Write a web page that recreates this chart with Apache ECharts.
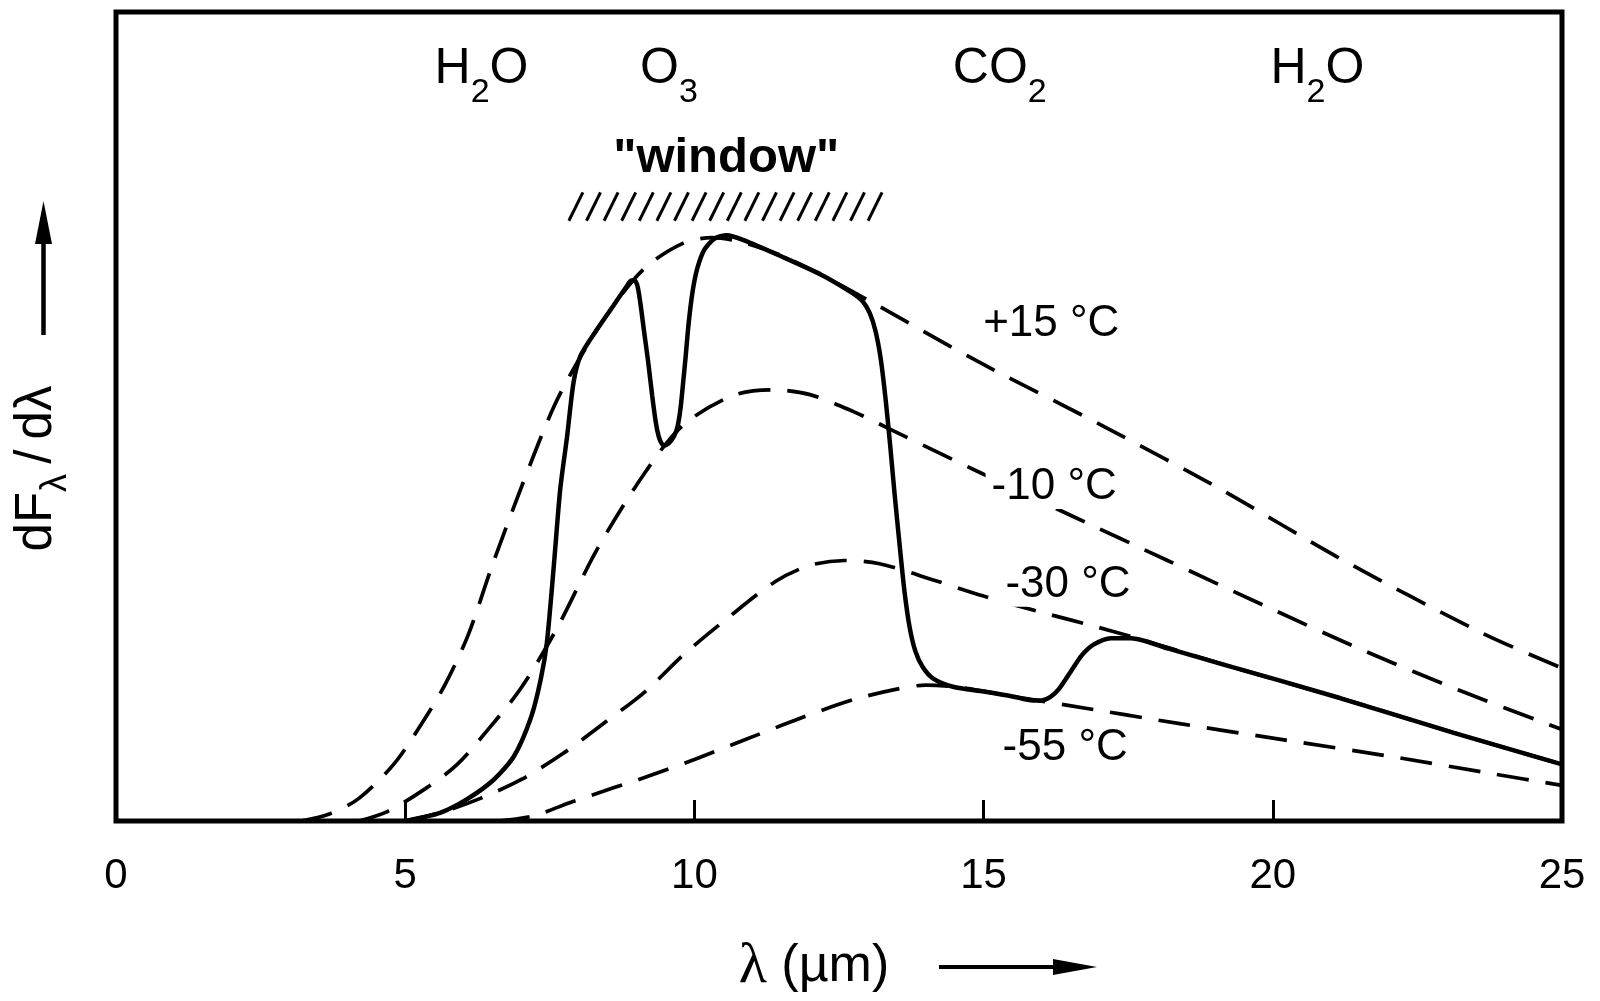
<!DOCTYPE html>
<html>
<head>
<meta charset="utf-8">
<script src="https://cdn.jsdelivr.net/npm/echarts@6/dist/echarts.min.js"></script>
<style>
  html, body { margin: 0; padding: 0; background: #fff; }
  #chart { width: 1600px; height: 1001px; }
</style>
</head>
<body>
<div id="chart"></div>
<script>
// Wavelength axis (µm)
const xMin = 0, xMax = 25, xStep = 5;

// Blackbody emission curves, relative dF/dλ, as [λ (µm), value]
const bbPlus15 = [[3.2,0],[3.7,0.9],[4.2,2.8],[4.8,7.0],[5.3,12.2],[5.7,17.0],[6.1,23.2],[6.5,31.5],[7.0,41.1],[7.57,51.2],[8.05,57.6],[8.6,63.7],[9.15,68.4],[9.8,71.4],[10.3,72.1],[10.8,71.6],[11.5,69.9],[12.3,67.1],[13.15,63.8],[14.9,56.8],[17.1,48.7],[19.1,41.0],[21.15,32.5],[23.6,23.3],[25,18.9]];
const bbMinus10 = [[4.2,0],[4.7,1.2],[5.35,4.0],[5.9,7.0],[6.42,11.2],[7.0,16.4],[7.63,23.9],[8.32,33.6],[9.12,42.8],[9.8,48.9],[10.67,52.6],[11.35,53.3],[12.0,52.7],[12.75,50.6],[13.45,48.2],[14.9,43.2],[16.53,37.7],[18.18,32.2],[19.83,26.7],[21.56,21.1],[23.28,16.0],[25,11.3]];
const bbMinus30 = [[5.0,0],[5.6,1.0],[6.3,2.8],[7.0,5.1],[7.74,8.4],[8.4,11.9],[9.15,16.0],[9.82,20.6],[10.56,25.0],[11.4,29.6],[12.0,31.6],[12.6,32.2],[13.2,31.8],[14.13,29.8],[15.0,27.8],[16.0,25.8],[16.9,24.1],[17.55,22.8],[18.2,21.4],[19.12,19.4],[21.16,15.2],[23.13,10.9],[25,7.0]];
const bbMinus55 = [[6.6,0],[7.2,0.6],[7.9,2.4],[8.6,4.1],[9.15,5.4],[10.0,7.6],[10.75,9.7],[11.83,12.7],[12.75,15.0],[13.5,16.3],[14.0,16.8],[14.6,16.5],[15.5,15.4],[16.46,14.3],[18.42,12.0],[20.22,10.0],[22.11,7.9],[23.83,5.8],[25,4.4]];

// Emission leaving the top of the atmosphere
const outgoing = [[5.0,0],[5.6,1.0],[6.07,2.7],[6.53,5.1],[6.88,8.0],[7.17,12.7],[7.34,17.4],[7.45,22.1],[7.57,31.6],[7.68,41.0],[7.8,47.6],[7.91,54.2],[8.03,57.5],[8.3,60.6],[8.6,63.7],[8.82,66.0],[8.91,66.8],[8.97,66.8],[9.02,66.0],[9.07,63.8],[9.13,60.5],[9.2,56.8],[9.27,52.6],[9.33,49.4],[9.38,47.6],[9.43,46.7],[9.48,46.4],[9.56,46.7],[9.65,47.6],[9.71,48.8],[9.76,51.0],[9.8,53.8],[9.85,57.5],[9.9,61.5],[9.97,65.5],[10.05,68.3],[10.17,70.6],[10.35,72.0],[10.56,72.4],[10.85,71.8],[11.5,69.8],[12.2,67.5],[12.7,65.4],[12.9,64.3],[13.03,62.8],[13.13,60.6],[13.22,57.2],[13.3,52.5],[13.38,46.8],[13.46,40.5],[13.55,34.0],[13.63,28.5],[13.72,24.0],[13.82,21.0],[13.95,19.0],[14.13,17.6],[14.47,16.6],[15.0,16.0],[15.5,15.4],[15.85,14.9],[16.0,14.9],[16.15,15.3],[16.3,16.3],[16.5,18.4],[16.7,20.5],[16.9,21.8],[17.2,22.6],[17.55,22.6],[18.2,21.3],[19.12,19.4],[21.16,15.2],[23.13,10.9],[25,7.0]];

// Curve labels: [text, λ, value]
const tempLabels = [['+15 °C', 16.17, 61.4], ['-10 °C', 16.22, 41.3], ['-30 °C', 16.46, 29.2], ['-55 °C', 16.41, 9.0]];
// Absorber labels across the top: [rich text, λ]
const gasLabels = [['{m|H}{s|2}{m|O}', 6.32], ['{m|O}{s|3}', 9.56], ['{m|CO}{s|2}', 15.28], ['{m|H}{s|2}{m|O}', 20.77]];
const gasRow = 92.0;
// Atmospheric window: [λ start, λ end, lower, upper]
const windowBand = [7.83, 13.31, 74.2, 77.7];
const windowText = ['"window"', 10.55, 81.9];

const FONT = 'Liberation Sans, Arial, Helvetica, sans-serif';
const chart = echarts.init(document.getElementById('chart'), null, { renderer: 'canvas' });

const dashed = [32, 17];
function bbSeries(name, data) {
  return {
    name, type: 'line', data, showSymbol: false, smooth: 0.3,
    lineStyle: { color: '#000', width: 3.7, type: dashed, cap: 'butt' },
    z: 2, silent: true
  };
}
const labelHolder = { type: 'scatter', symbolSize: 1, itemStyle: { color: 'rgba(0,0,0,0)', opacity: 1 }, z: 5, silent: true };

chart.setOption({
  animation: false,
  backgroundColor: '#fff',
  grid: { left: 116, right: 38, top: 12, bottom: 180, show: true, borderColor: '#000', borderWidth: 5, backgroundColor: 'transparent' },
  xAxis: {
    type: 'value', min: xMin, max: xMax, interval: xStep,
    name: '{l|λ} (µm)', nameLocation: 'middle', nameGap: 117,
    nameTextStyle: { fontFamily: FONT, fontSize: 52, color: '#000', padding: [0, 50, 0, 0],
      rich: { l: { fontFamily: 'Liberation Serif, serif', fontSize: 58, color: '#000' } } },
    axisLine: { show: false },
    axisTick: { show: true, inside: true, length: 21, lineStyle: { color: '#000', width: 3 } },
    axisLabel: { fontFamily: FONT, fontSize: 42, color: '#000', margin: 34 },
    splitLine: { show: false }
  },
  yAxis: {
    type: 'value', min: 0, max: 100,
    name: '{a|dF}{s|λ}{a|\u2009/\u2009dλ}', nameLocation: 'middle', nameRotate: 90, nameGap: 42,
    nameTextStyle: { color: '#000', padding: [0, 104, 0, 0],
      rich: {
        a: { fontFamily: FONT, fontSize: 51, color: '#000', verticalAlign: 'top', lineHeight: 51 },
        s: { fontFamily: FONT, fontSize: 36, color: '#000', verticalAlign: 'bottom', lineHeight: 63 }
      } },
    axisLine: { show: false }, axisTick: { show: false }, axisLabel: { show: false }, splitLine: { show: false }
  },
  graphic: [
    { type: 'line', shape: { x1: 43.5, y1: 335, x2: 43.5, y2: 236 }, style: { stroke: '#000', lineWidth: 4.5 } },
    { type: 'polygon', shape: { points: [[43.5, 201], [35, 244], [52, 244]] }, style: { fill: '#000' } },
    { type: 'line', shape: { x1: 939, y1: 967, x2: 1058, y2: 967 }, style: { stroke: '#000', lineWidth: 4 } },
    { type: 'polygon', shape: { points: [[1097, 967], [1053, 959], [1053, 975]] }, style: { fill: '#000' } }
  ],
  series: [
    bbSeries('+15 °C', bbPlus15),
    bbSeries('-10 °C', bbMinus10),
    bbSeries('-30 °C', bbMinus30),
    bbSeries('-55 °C', bbMinus55),
    {
      name: 'outgoing', type: 'line', data: outgoing, showSymbol: false, smooth: 0.25,
      lineStyle: { color: '#000', width: 4.5 }, z: 3, silent: true
    },
    {
      name: 'window', type: 'custom', data: [windowBand], encode: { x: [0, 1], y: [2, 3] }, z: 3, silent: true,
      renderItem: function (params, api) {
        const tl = api.coord([api.value(0), api.value(3)]);
        const br = api.coord([api.value(1), api.value(2)]);
        const step = 17.6, lean = 14;
        const children = [];
        for (let x = tl[0]; x + lean <= br[0] + 2; x += step) {
          children.push({ type: 'line', shape: { x1: x, y1: br[1], x2: x + lean, y2: tl[1] },
            style: { stroke: '#000', lineWidth: 3 } });
        }
        return { type: 'group', children };
      }
    },
    Object.assign({}, labelHolder, {
      name: 'curve labels',
      data: tempLabels.map(t => ({ value: [t[1], t[2]], label: { formatter: t[0] } })),
      label: { show: true, position: 'inside', fontFamily: FONT, fontSize: 44, color: '#000',
        backgroundColor: '#fff', padding: [0, 6] }
    }),
    Object.assign({}, labelHolder, {
      name: 'absorbers',
      data: gasLabels.map(g => ({ value: [g[1], gasRow], label: { formatter: g[0] } })),
      label: { show: true, position: 'inside',
        rich: {
          m: { fontFamily: FONT, fontSize: 50, color: '#000', verticalAlign: 'top', lineHeight: 50 },
          s: { fontFamily: FONT, fontSize: 34, color: '#000', verticalAlign: 'bottom', lineHeight: 66 }
        } }
    }),
    Object.assign({}, labelHolder, {
      name: 'window label',
      data: [{ value: [windowText[1], windowText[2]], label: { formatter: windowText[0] } }],
      label: { show: true, position: 'inside', fontFamily: FONT, fontSize: 49, fontWeight: 'bold', color: '#000' }
    })
  ]
});
</script>
</body>
</html>
